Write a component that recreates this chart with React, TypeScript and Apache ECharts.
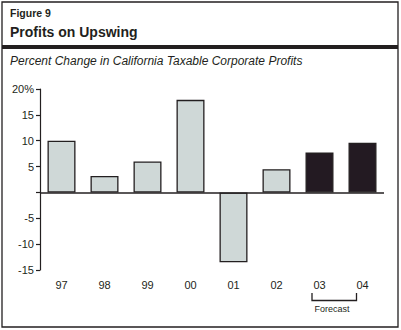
import React, { useEffect, useRef } from "react";
import * as echarts from "echarts";

const years = ["97", "98", "99", "00", "01", "02", "03", "04"];
const values = [10.0, 3.2, 6.0, 17.9, -13.5, 4.5, 7.7, 9.6];
const forecastFlags = [false, false, false, false, false, false, true, true];
const yTicks = { min: -15, max: 20, interval: 5 };

const GRAY = "#cfd8d7";
const DARK = "#231a22";
const INK = "#231f20";

export default function App() {
  const ref = useRef<HTMLDivElement>(null);
  useEffect(() => {
    if (!ref.current) return;
    const chart = echarts.init(ref.current, null, { renderer: "svg" });
    const font = "Arial, 'Liberation Sans', sans-serif";
    chart.setOption({
      animation: false,
      backgroundColor: "#fff",
      grid: { left: 40, right: 17, top: 89, bottom: 60, containLabel: false },
      xAxis: {
        type: "category",
        data: years,
        position: "bottom",
        axisLine: { show: false, onZero: false },
        axisTick: { show: false },
        axisLabel: { color: INK, fontSize: 11, fontFamily: font, margin: 9 },
      },
      yAxis: {
        type: "value",
        min: yTicks.min,
        max: yTicks.max,
        interval: yTicks.interval,
        axisLine: { show: true, lineStyle: { color: INK, width: 1.2 } },
        axisTick: { show: true, length: 4, inside: false, lineStyle: { color: INK, width: 1.2 } },
        splitLine: { show: false },
        axisLabel: {
          color: INK,
          fontSize: 11,
          fontFamily: font,
          margin: 6,
          formatter: (v: number) => (v === 0 ? "" : v === yTicks.max ? v + "%" : String(v)),
        },
      },
      series: [
        {
          type: "bar",
          barWidth: 28,
          data: values.map((v, i) => ({
            value: v,
            itemStyle: {
              color: forecastFlags[i] ? DARK : GRAY,
              borderColor: INK,
              borderWidth: 1.3,
            },
          })),
          markLine: {
            silent: true,
            symbol: "none",
            label: { show: false },
            lineStyle: { color: INK, width: 1.5, type: "solid" },
            data: [{ yAxis: 0 }],
          },
        },
      ],
      graphic: [
        {
          type: "rect",
          shape: { x: 2, y: 2, width: 396, height: 325 },
          style: { fill: "none", stroke: INK, lineWidth: 1.3 },
        },
        {
          type: "rect",
          shape: { x: 2, y: 45, width: 396, height: 4 },
          style: { fill: INK },
        },
        {
          type: "text",
          x: 10,
          y: 13,
          style: { text: "Figure 9", font: "bold 10.5px Arial, 'Liberation Sans', sans-serif", fill: INK, verticalAlign: "middle" },
        },
        {
          type: "text",
          x: 10,
          y: 32,
          style: { text: "Profits on Upswing", font: "bold 14px Arial, 'Liberation Sans', sans-serif", fill: INK, verticalAlign: "middle" },
        },
        {
          type: "text",
          x: 10,
          y: 61,
          style: {
            text: "Percent Change in California Taxable Corporate Profits",
            font: "italic 12px Arial, 'Liberation Sans', sans-serif",
            fill: INK,
            verticalAlign: "middle",
          },
        },
        {
          type: "polyline",
          shape: { points: [[312, 293], [312, 300.5], [356.5, 300.5], [356.5, 293]] },
          style: { stroke: INK, lineWidth: 1.3, fill: "none" },
        },
        {
          type: "text",
          x: 332,
          y: 309,
          style: {
            text: "Forecast",
            font: "9px Arial, 'Liberation Sans', sans-serif",
            fill: INK,
            align: "center",
            verticalAlign: "middle",
          },
        },
      ],
    });
    return () => chart.dispose();
  }, []);
  return <div ref={ref} style={{ width: 401, height: 330, position: "absolute", left: 0, top: 0 }} />;
}
